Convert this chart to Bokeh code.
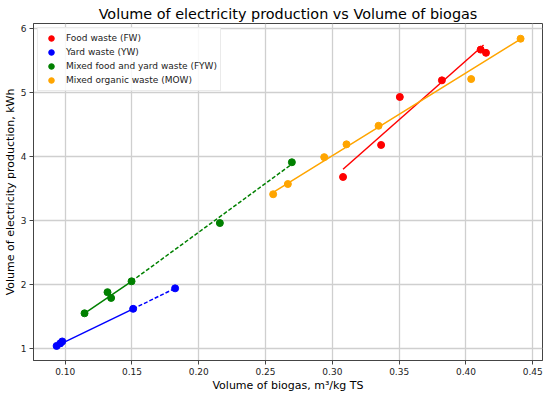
from bokeh.plotting import figure
from bokeh.models import Range1d, FixedTicker, PrintfTickFormatter, Legend, LegendItem
from bokeh.embed import file_html
from bokeh.resources import INLINE

FONT = "DejaVu Sans"

# ---- data ----
fw_x = [0.308, 0.3365, 0.3505, 0.382, 0.411, 0.415]
fw_y = [3.68, 4.18, 4.93, 5.19, 5.67, 5.62]
yw_x = [0.0936, 0.0963, 0.0978, 0.1509, 0.1823]
yw_y = [1.04, 1.08, 1.11, 1.62, 1.94]
fyw_x = [0.1145, 0.1317, 0.1344, 0.1497, 0.2158, 0.2697]
fyw_y = [1.55, 1.88, 1.79, 2.05, 2.96, 3.91]
mow_x = [0.2557, 0.2667, 0.2939, 0.3106, 0.3346, 0.4039, 0.4409]
mow_y = [3.41, 3.57, 3.99, 4.19, 4.48, 5.21, 5.84]

# fitted lines (solid = fitted range, dashed = extension)
fw_fit_x, fw_fit_y = [0.308, 0.411], [3.80, 5.70]
fw_ext_x, fw_ext_y = [0.411, 0.4136], [5.70, 5.75]
yw_fit_x, yw_fit_y = [0.0936, 0.1509], [1.04, 1.62]
yw_ext_x, yw_ext_y = [0.1509, 0.1823], [1.62, 1.94]
fyw_fit_x, fyw_fit_y = [0.1145, 0.1497], [1.55, 2.05]
fyw_ext_x, fyw_ext_y = [0.1497, 0.269], [2.05, 3.87]
mow_fit_x, mow_fit_y = [0.2557, 0.2572, 0.4406], [3.42, 3.46, 5.83]

x_ticks = [0.10, 0.15, 0.20, 0.25, 0.30, 0.35, 0.40, 0.45]
y_ticks = [1, 2, 3, 4, 5, 6]

labels = ["Food waste (FW)", "Yard waste (YW)",
          "Mixed food and yard waste (FYW)", "Mixed organic waste (MOW)"]
colors = ["red", "blue", "green", "orange"]

p = figure(width=550, height=396, output_backend="svg", toolbar_location=None,
           x_range=Range1d(0.0763, 0.4573), y_range=Range1d(0.8125, 6.078),
           min_border_left=33, min_border_right=8, min_border_top=23, min_border_bottom=36)

p.title.text = "Volume of electricity production vs Volume of biogas"
p.title.align = "center"
p.title.text_font = FONT
p.title.text_font_size = "14.4px"
p.title.text_font_style = "normal"
p.title.text_color = "black"
p.title.offset = -7
p.title.standoff = 3

p.background_fill_color = "white"
p.border_fill_color = "white"
p.outline_line_color = "#444444"
p.outline_line_width = 1

for ax in (p.xaxis[0], p.yaxis[0]):
    ax.axis_line_color = "#444444"
    ax.major_tick_in = 0
    ax.major_tick_out = 4
    ax.major_tick_line_color = "#444444"
    ax.minor_tick_line_color = None
    ax.major_label_text_font = FONT
    ax.major_label_text_font_size = "9px"
    ax.major_label_text_color = "#222222"
    ax.axis_label_text_font = FONT
    ax.axis_label_text_font_size = "11px"
    ax.axis_label_text_font_style = "normal"
    ax.axis_label_text_color = "black"
    ax.major_label_standoff = 3
    ax.axis_label_standoff = 1

p.xaxis.ticker = FixedTicker(ticks=x_ticks)
p.xaxis.formatter = PrintfTickFormatter(format="%.2f")
p.yaxis.ticker = FixedTicker(ticks=y_ticks)
p.xaxis.axis_label = "Volume of biogas, m³/kg TS"
p.yaxis.axis_label = "Volume of electricity production, kWh"

p.grid.grid_line_color = "#cfcfcf"
p.grid.grid_line_width = 1.3

series = [
    (fw_x, fw_y, [(fw_fit_x, fw_fit_y, "solid"), (fw_ext_x, fw_ext_y, "4 2")]),
    (yw_x, yw_y, [(yw_fit_x, yw_fit_y, "solid"), (yw_ext_x, yw_ext_y, "4 2")]),
    (fyw_x, fyw_y, [(fyw_fit_x, fyw_fit_y, "solid"), (fyw_ext_x, fyw_ext_y, "4 2")]),
    (mow_x, mow_y, [(mow_fit_x, mow_fit_y, "solid")]),
]

items = []
for (xs, ys, lines), lab, col in zip(series, labels, colors):
    p.scatter(xs, ys, size=7, marker="circle", fill_color=col, line_color=col)
    for lx, ly, dash in lines:
        p.line(lx, ly, line_color=col, line_width=1.5, line_dash=dash)
    # legend swatch: smaller marker at a non-drawn (NaN) position
    sw = p.scatter(x=[float("nan")], y=[float("nan")], size=5, marker="circle",
                   fill_color=col, line_color=col)
    items.append(LegendItem(label=lab, renderers=[sw]))

legend = Legend(items=items, location="top_left")
legend.label_text_font = FONT
legend.label_text_font_size = "9px"
legend.label_text_color = "#222222"
legend.label_height = 14
legend.glyph_height = 14
legend.glyph_width = 20
legend.label_standoff = 5
legend.spacing = 0
legend.padding = 3
legend.margin = 4
legend.border_line_color = "#d5d5d5"
legend.border_line_width = 1
legend.background_fill_alpha = 0.85
p.add_layout(legend, "center")

open("out.html", "w").write(file_html(p, INLINE))
